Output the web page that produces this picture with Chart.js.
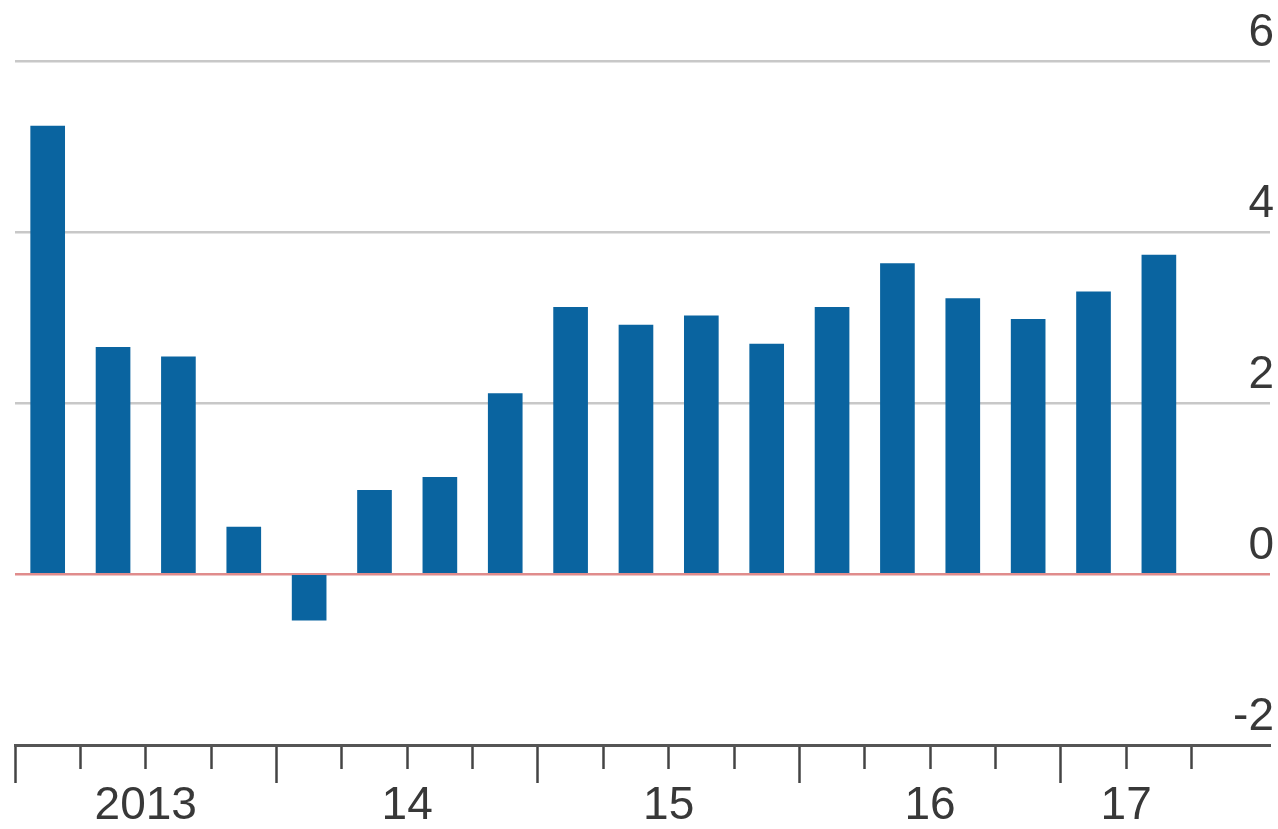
<!DOCTYPE html>
<html>
<head>
<meta charset="utf-8">
<script src="https://cdn.jsdelivr.net/npm/chart.js@4/dist/chart.umd.min.js"></script>
<style>
  html, body { margin: 0; padding: 0; background: #ffffff; }
  canvas { display: block; }
</style>
</head>
<body>
<canvas id="gdpChart" width="1278" height="829"></canvas>
<script>
// quarters 2013 Q1 .. 2017 Q2
const quarters = ['2013Q1', '2013Q2', '2013Q3', '2013Q4',
                  '2014Q1', '2014Q2', '2014Q3', '2014Q4',
                  '2015Q1', '2015Q2', '2015Q3', '2015Q4',
                  '2016Q1', '2016Q2', '2016Q3', '2016Q4',
                  '2017Q1', '2017Q2'];
const growth = [5.24, 2.65, 2.54, 0.55, -0.54, 0.98, 1.13, 2.11, 3.12,
                2.91, 3.02, 2.69, 3.12, 3.63, 3.22, 2.98, 3.30, 3.73];

// x axis: quarter boundaries, year labels sit on a boundary
const quarterTicks = [0, 1, 2, 3, 4, 5, 6, 7, 8, 9, 10, 11, 12, 13, 14, 15, 16, 17, 18];
const yearStarts = [0, 4, 8, 12, 16];
const yearLabelPos = [2, 6, 10, 14, 17];
const yearLabels = ['2013', '14', '15', '16', '17'];
const yTicks = [-2, 0, 2, 4, 6];

const points = quarters.map((q, i) => ({ x: i + 0.5, y: growth[i] }));

const labelFont = { family: "'Liberation Sans', Arial, sans-serif", size: 46, lineHeight: 1 };

const ctx = document.getElementById('gdpChart').getContext('2d');
new Chart(ctx, {
    type: 'bar',
    data: {
        datasets: [{
            label: 'GDP',
            data: points,
            backgroundColor: '#0a64a0',
            borderWidth: 0,
            barThickness: 34
        }]
    },
    options: {
        responsive: false,
        animation: false,
        layout: { padding: { left: 15, right: 0, top: 61, bottom: 0 } },
        plugins: {
            legend: { display: false },
            tooltip: { enabled: false }
        },
        scales: {
            x: {
                type: 'linear',
                min: 0,
                max: 19.2,
                offset: false,
                afterBuildTicks: (scale) => {
                    scale.ticks = quarterTicks.map(v => ({ value: v }));
                },
                grid: {
                    offset: false,
                    drawOnChartArea: false,
                    tickLength: 38,
                    tickWidth: 2.5,
                    tickColor: '#444444',
                    // quarter ticks are short, year ticks long
                    tickBorderDash: (c) => yearStarts.includes(c.tick && c.tick.value) ? [] : [22, 200]
                },
                border: { display: true, color: '#555555', width: 3 },
                ticks: {
                    autoSkip: false,
                    maxRotation: 0,
                    minRotation: 0,
                    padding: 0,
                    color: '#383838',
                    font: labelFont,
                    callback: (value) => {
                        const k = yearLabelPos.indexOf(value);
                        return k >= 0 ? yearLabels[k] : '';
                    }
                }
            },
            y: {
                position: 'right',
                min: -2,
                max: 6,
                afterBuildTicks: (scale) => {
                    scale.ticks = yTicks.map(v => ({ value: v }));
                },
                grid: {
                    drawTicks: false,
                    color: (c) => c.tick && c.tick.value === 0 ? '#e08c8c' : '#c8c8c8',
                    lineWidth: (c) => c.tick && c.tick.value === 0 ? 2.5 : 2.5
                },
                border: { display: false },
                ticks: {
                    mirror: true,
                    padding: 4,
                    labelOffset: -28,
                    color: '#383838',
                    font: labelFont
                }
            }
        }
    }
});
</script>
</body>
</html>
